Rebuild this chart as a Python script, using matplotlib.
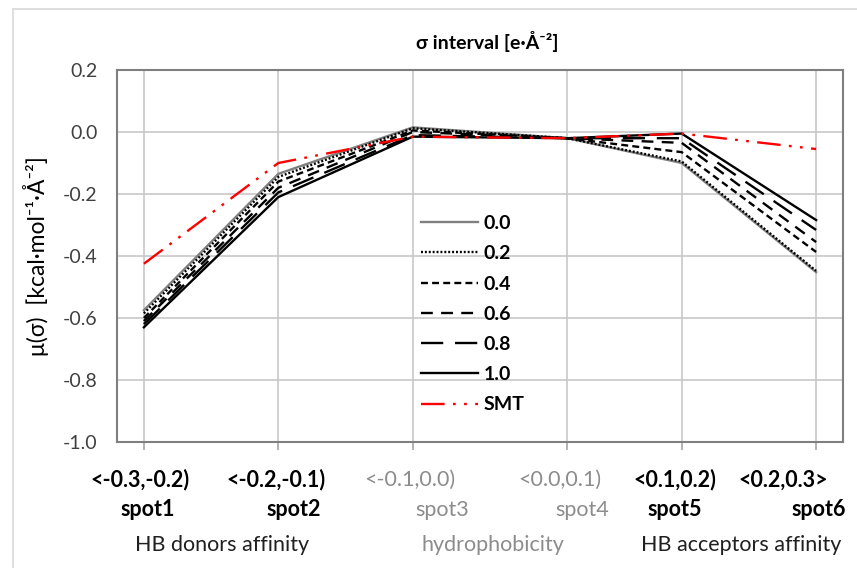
import matplotlib
matplotlib.use('Agg')
import matplotlib.pyplot as plt
import matplotlib.patches as mpatches

plt.rcParams['font.family'] = ['Lato', 'DejaVu Sans']
plt.rcParams['lines.scale_dashes'] = False

# x positions of the six sigma spots (uneven, as in the original sheet)
spot_x = [1.0, 2.0, 3.0, 4.15, 5.0, 6.0]
intervals = ['<-0.3,-0.2)', '<-0.2,-0.1)', '<-0.1,0.0)', '<0.0,0.1)', '<0.1,0.2)', '<0.2,0.3>']
spots = ['spot1', 'spot2', 'spot3', 'spot4', 'spot5', 'spot6']
groups = ['HB donors affinity', 'hydrophobicity', 'HB acceptors affinity']

mu_00 = [-0.575, -0.135, 0.015, -0.02, -0.100, -0.452]
mu_02 = [-0.585, -0.145, 0.012, -0.02, -0.095, -0.448]
mu_04 = [-0.600, -0.160, 0.005, -0.02, -0.065, -0.387]
mu_06 = [-0.610, -0.180, 0.000, -0.02, -0.035, -0.355]
mu_08 = [-0.620, -0.195, -0.010, -0.02, -0.020, -0.316]
mu_10 = [-0.630, -0.210, -0.015, -0.02, -0.005, -0.284]
mu_smt = [-0.425, -0.100, -0.015, -0.02, -0.005, -0.055]

fig = plt.figure(figsize=(8.57, 5.68), dpi=100)
ax = fig.add_axes([117/857, 1-442/568, (843-117)/857, (442-70)/568])

# outer chart-area border
fig.patches.append(mpatches.Rectangle((13/857, -0.1), 1.2, 1-9/568+0.1, transform=fig.transFigure,
                                      fill=False, edgecolor='#d9d9d9', lw=1.2))

lw = 1.7
ax.plot(spot_x, mu_00, color='#808080', lw=lw, label='0.0', zorder=3)
ax.plot(spot_x, mu_02, color='black', lw=lw, dashes=(1.4, 1.4), label='0.2', zorder=3)
ax.plot(spot_x, mu_04, color='black', lw=lw, dashes=(5, 3), label='0.4', zorder=3)
ax.plot(spot_x, mu_06, color='black', lw=lw, dashes=(8.5, 6), label='0.6', zorder=3)
ax.plot(spot_x, mu_08, color='black', lw=lw, dashes=(16, 8.5), label='0.8', zorder=3)
ax.plot(spot_x, mu_10, color='black', lw=lw, label='1.0', zorder=3)
ax.plot(spot_x, mu_smt, color='#ff0000', lw=lw, dashes=(17, 6, 2, 6, 2, 6), label='SMT', zorder=4)

ax.set_xlim(0.8, 6.2)
ax.set_ylim(-1.0, 0.2)
ax.set_yticks([-1.0, -0.8, -0.6, -0.4, -0.2, 0.0, 0.2])
ax.set_yticklabels(['-1.0', '-0.8', '-0.6', '-0.4', '-0.2', '0.0', '0.2'])
ax.set_xticks(spot_x)
ax.set_xticklabels([])
ax.tick_params(axis='x', direction='out', length=5.5, width=1.2, color='#a6a6a6')
ax.tick_params(axis='y', length=0, labelsize=14, labelcolor='#404040', pad=14)
ax.grid(True, color='#c8c8c8', lw=1.2)
ax.set_axisbelow(True)
for s in ax.spines.values():
    s.set_color('#7f7f7f')
    s.set_linewidth(1.5)

ax.set_ylabel('μ(σ)  [kcal·mol⁻¹·Å⁻²]', fontsize=16.5, labelpad=10)
fig.text(487/857, 1-42/568, 'σ interval [e·Å⁻²]', ha='center', va='center',
         fontsize=14, fontweight='bold')

leg = ax.legend(loc='upper left', bbox_to_anchor=(0.419, 0.61), frameon=False,
                prop={'weight': 'bold', 'size': 14}, handlelength=2.9,
                handletextpad=0.3, labelspacing=0.68, borderpad=0, borderaxespad=0)

# category labels under the axis
interval_cx = [140, 276, 410, 560, 675, 783]
spot_cx = [148, 294, 442, 582, 675, 819]
faded = [False, False, True, True, False, False]
for i in range(6):
    c = '#8c8c8c' if faded[i] else 'black'
    w = 'normal' if faded[i] else 'bold'
    fig.text(interval_cx[i]/857, 1-480/568, intervals[i], ha='center', va='center',
             fontsize=15.5, color=c, fontweight=w)
    fig.text(spot_cx[i]/857, 1-510/568, spots[i], ha='center', va='center',
             fontsize=15.5, color=c, fontweight=w)
group_cx = [222, 493, 741]
group_col = ['#202020', '#8c8c8c', '#202020']
for g, cx, c in zip(groups, group_cx, group_col):
    fig.text(cx/857, 1-545/568, g, ha='center', va='center', fontsize=15.5, color=c)

plt.savefig('out.png', dpi=100)
plt.close()
